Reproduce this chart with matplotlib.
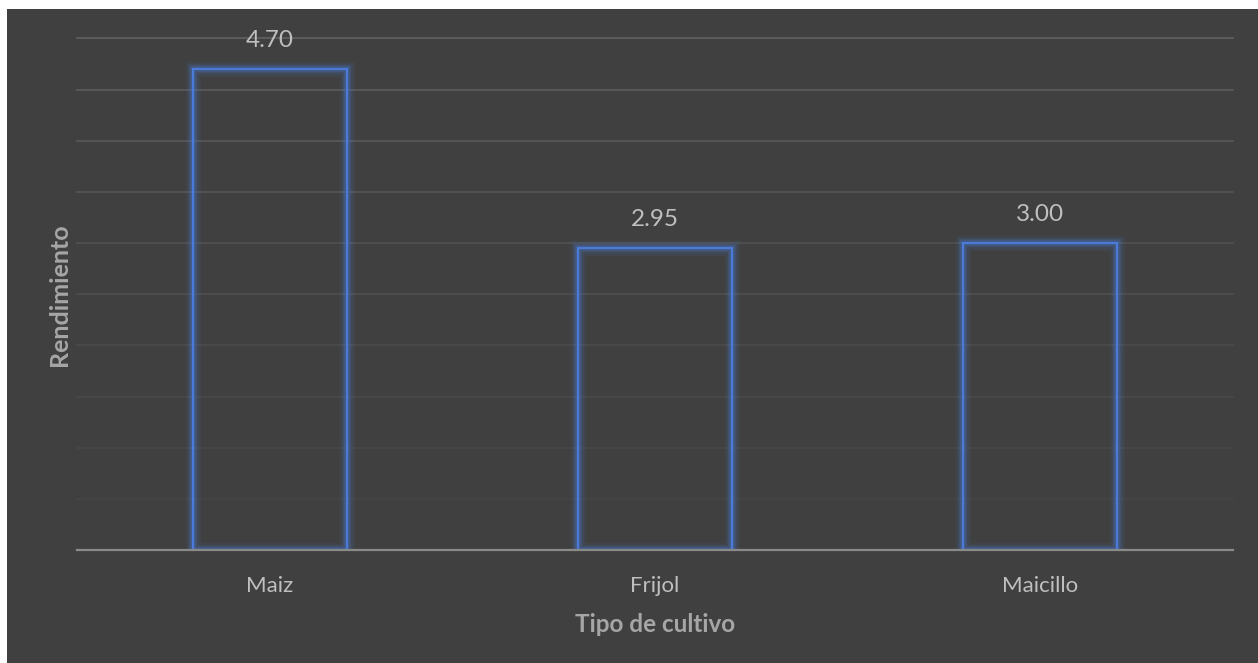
import matplotlib
matplotlib.use("Agg")
import matplotlib.pyplot as plt
import numpy as np

categories = ["Maiz", "Frijol", "Maicillo"]
values = [4.70, 2.95, 3.00]
value_labels = ["4.70", "2.95", "3.00"]
y_ticks = [0.5, 1.0, 1.5, 2.0, 2.5, 3.0, 3.5, 4.0, 4.5, 5.0]

BG = "#404040"
TXT = "#BFBFBF"
TITLE = "#A6A6A6"
BLUE = "#4A7BD8"

plt.rcParams['font.family'] = ['Lato', 'DejaVu Sans']

fig = plt.figure(figsize=(12.58, 6.63), dpi=100, facecolor="white")
# dark chart panel
fig.patches.append(plt.Rectangle((7/1258, 0), 1 - 7/1258, 1 - 9/663,
                                 transform=fig.transFigure, facecolor=BG,
                                 edgecolor="none", zorder=-10))
ax = fig.add_axes([77/1258, (663-550)/663, (1233-77)/1258, (550-38.5)/663])
ax.set_facecolor(BG)
ax.patch.set_alpha(0)

x = np.arange(len(categories))
ax.set_xlim(-0.5, len(categories) - 0.5)
ax.set_ylim(0, 5)

# gradient gridlines (fade toward bottom)
for t in y_ticks:
    a = 0.15 + 0.85 * (t / 5.0) ** 1.5
    ax.axhline(t, color="#5E5E5E", lw=1.3, alpha=a, zorder=1, clip_on=False)

# glow
for lw, al in [(11, 0.08), (8, 0.10), (6, 0.14), (4, 0.22)]:
    ax.bar(x, values, width=0.4, facecolor="none", edgecolor=BLUE,
           linewidth=lw, alpha=al, zorder=2)
ax.bar(x, values, width=0.4, facecolor="none", edgecolor=BLUE,
       linewidth=1.6, zorder=3)

ax.axhline(0, color="#8A8A8A", lw=1.6, zorder=4, clip_on=False)

for xi, v, lab in zip(x, values, value_labels):
    ax.annotate(lab, (xi, v), xytext=(0, 13), textcoords="offset points",
                ha="center", va="bottom", color=TXT, fontsize=17.5)

ax.set_xticks(x)
ax.set_xticklabels(categories, color=TXT, fontsize=16)
ax.tick_params(axis="x", length=0, pad=19)
ax.set_yticks([])
for s in ax.spines.values():
    s.set_visible(False)

ax.set_xlabel("Tipo de cultivo", color=TITLE, fontsize=17.5, fontweight="bold",
              labelpad=12)
ax.set_ylabel("Rendimiento", color=TITLE, fontsize=18, fontweight="bold",
              labelpad=4)

fig.savefig("out.png", dpi=100, facecolor="white")
